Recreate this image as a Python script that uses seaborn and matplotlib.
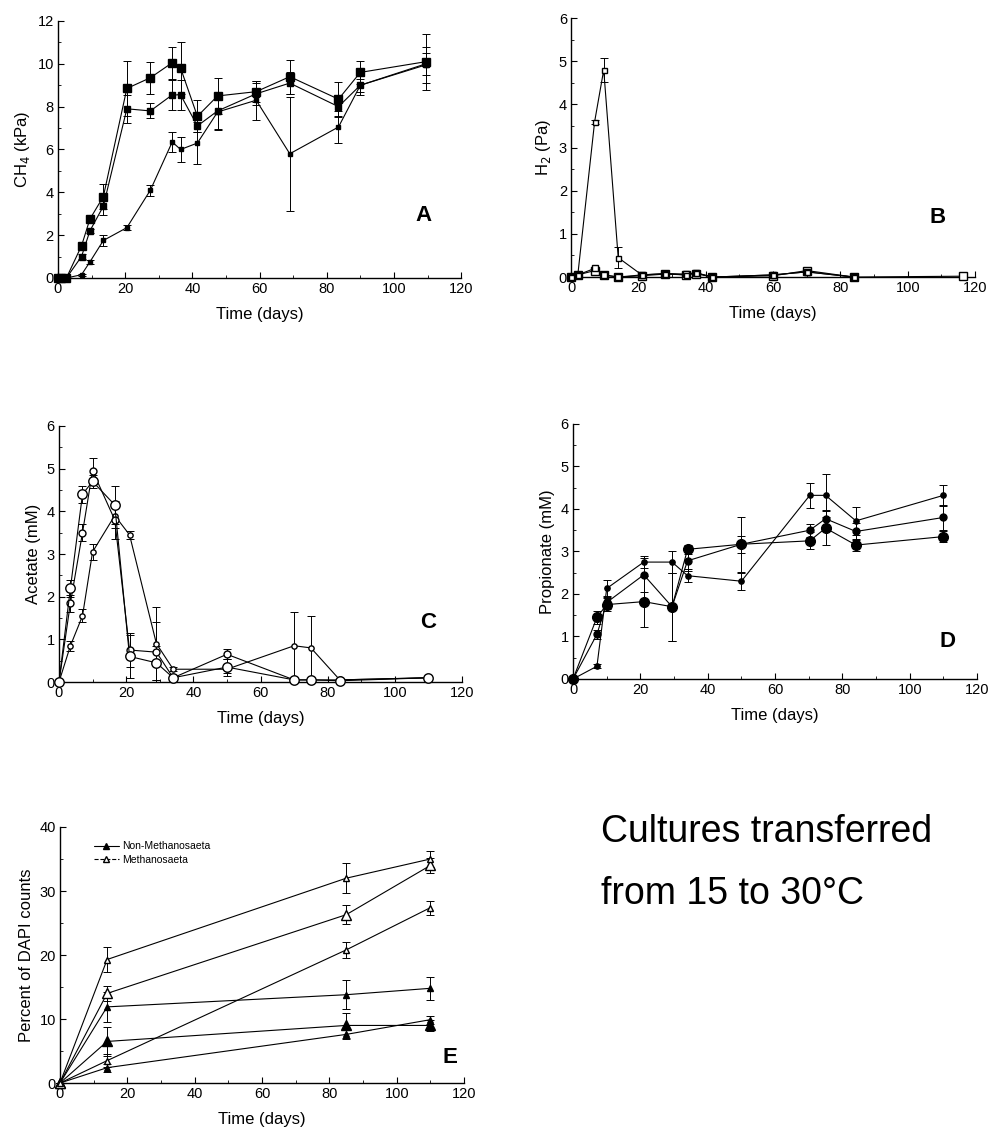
import seaborn as sns
import matplotlib.pyplot as plt
from matplotlib.lines import Line2D
from matplotlib.ticker import MultipleLocator

sns.set_style("ticks")
plt.rcParams['font.family'] = ['Liberation Sans', 'DejaVu Sans']
plt.rcParams['text.color'] = 'black'
plt.rcParams['axes.labelcolor'] = 'black'
plt.rcParams['xtick.color'] = 'black'
plt.rcParams['ytick.color'] = 'black'

# --- Panel A: CH4 ---
a_x = [0, 1, 2.5, 7, 9.5, 13.5, 20.5, 27.5, 34, 36.5, 41.5, 47.5, 59, 69, 83.5, 90, 109.5]
a_large = [0, 0, 0, 1.5, 2.75, 3.8, 8.85, 9.35, 10.05, 9.8, 7.55, 8.5, 8.7, 9.4, 8.35, 9.6, 10.1]
a_large_err = [0, 0, 0, 0.1, 0.15, 0.6, 1.3, 0.75, 0.75, 1.2, 0.75, 0.85, 0.5, 0.8, 0.8, 0.55, 1.3]
a_mid = [0, 0, 0, 1.0, 2.2, 3.35, 7.9, 7.8, 8.55, 8.55, 7.1, 7.8, 8.6, 9.1, 8.0, 9.0, 10.0]
a_mid_err = [0, 0, 0, 0.1, 0.1, 0.4, 0.65, 0.35, 0.7, 0.7, 0.3, 0.85, 0.5, 0.5, 0.5, 0.45, 0.5]
a_small = [0, 0, 0, 0.15, 0.75, 1.75, 2.35, 4.1, 6.35, 6.0, 6.3, 7.75, 8.3, 5.8, 7.05, 9.0, 9.95]
a_small_err = [0, 0, 0, 0.05, 0.1, 0.25, 0.1, 0.25, 0.45, 0.6, 1.0, 0.85, 0.9, 2.65, 0.75, 0.3, 0.85]

# --- Panel B: H2 ---
b_x = [0, 2, 7, 9.7, 14, 21, 28, 34, 37, 42, 60, 70, 84]
b_small = [0, 0.05, 3.6, 4.8, 0.45, 0.05, 0.08, 0.05, 0.1, 0, 0.05, 0.12, 0]
b_small_err = [0, 0, 0.05, 0.27, 0.25, 0, 0, 0, 0, 0, 0, 0, 0]
b_mid = [0, 0.05, 0.2, 0.05, 0, 0.05, 0.08, 0.07, 0.1, 0, 0.05, 0.12, 0]
b_x_large = [0, 2, 7, 9.7, 14, 21, 28, 34, 37, 42, 60, 70, 84, 116.5]
b_large = [0, 0.05, 0.15, 0.05, 0, 0.03, 0.07, 0.05, 0.08, 0, 0.03, 0.15, 0, 0.02]

# --- Panel C: Acetate ---
c_x = [0, 3.4, 7, 10, 16.6, 21, 29, 34, 50, 70, 75, 83.6, 110]
c_large = [0, 2.2, 4.4, 4.7, 4.15, 0.6, 0.45, 0.1, 0.35, 0.05, 0.05, 0.03, 0.1]
c_large_err = [0, 0.2, 0.2, 0.15, 0.45, 0.5, 0.4, 0.05, 0.2, 0, 0, 0, 0]
c_mid = [0, 1.85, 3.5, 4.95, 3.8, 0.75, 0.7, 0.1, 0.65, 0.05, 0.05, 0.05, 0.1]
c_mid_err = [0, 0.2, 0.2, 0.3, 0.45, 0.4, 0.7, 0.05, 0.12, 0, 0, 0, 0]
c_small = [0, 0.85, 1.55, 3.05, 3.9, 3.45, 0.9, 0.3, 0.3, 0.85, 0.8, 0.05, 0.1]
c_small_err = [0, 0.12, 0.15, 0.18, 0.3, 0.1, 0.85, 0.05, 0.1, 0.8, 0.75, 0, 0]

# --- Panel D: Propionate ---
d_x = [0, 7.1, 10, 21, 29.4, 34, 50, 70.3, 75, 84, 110]
d_large = [0, 1.45, 1.75, 1.82, 1.7, 3.05, 3.17, 3.25, 3.55, 3.15, 3.35]
d_large_err = [0, 0.15, 0.15, 0.6, 0.8, 0.1, 0.65, 0.2, 0.4, 0.15, 0.12]
d_mid = [0, 1.05, 1.8, 2.45, 1.7, 2.78, 3.17, 3.5, 3.77, 3.47, 3.8]
d_mid_err = [0, 0.1, 0.15, 0.4, 0.8, 0.25, 0.2, 0.15, 0.2, 0.2, 0.3]
d_small = [0, 0.3, 2.13, 2.75, 2.75, 2.43, 2.3, 4.32, 4.32, 3.72, 4.32]
d_small_err = [0, 0.05, 0.2, 0.15, 0.25, 0.15, 0.2, 0.3, 0.5, 0.33, 0.25]

# --- Panel E: percent of DAPI counts ---
e_x = [0, 14, 85, 110]
e_non_large = [0, 6.5, 9.0, 9.0]
e_non_large_err = [0, 2.2, 2.0, 0.9]
e_non_mid = [0, 2.4, 7.6, 9.9]
e_non_mid_err = [0, 0.6, 0.7, 0.6]
e_non_small = [0, 11.9, 13.8, 14.8]
e_non_small_err = [0, 2.3, 2.3, 1.8]
e_meth_large = [0, 14.0, 26.3, 34.0]
e_meth_large_err = [0, 1.2, 1.5, 1.2]
e_meth_mid = [0, 19.3, 32.0, 35.0]
e_meth_mid_err = [0, 2.0, 2.3, 1.2]
e_meth_small = [0, 3.5, 20.8, 27.4]
e_meth_small_err = [0, 1.0, 1.3, 1.1]


def draw(ax, x, y, err, marker, ms, filled):
    if err is not None:
        ax.errorbar(x, y, yerr=err, fmt='none', ecolor='black', elinewidth=0.7,
                    capsize=3, capthick=0.7, clip_on=False, zorder=2)
    sns.lineplot(x=x, y=y, ax=ax, color='black', lw=0.8, marker=marker,
                 markersize=ms, markeredgewidth=1.0, markeredgecolor='black',
                 markerfacecolor='black' if filled else 'white',
                 sort=False, estimator=None, clip_on=False, zorder=3)


def style(ax, ymax, ymajor, yminor, ylabel, letter, lx, ly):
    ax.set_xlim(0, 120)
    ax.set_ylim(0, ymax)
    ax.xaxis.set_major_locator(MultipleLocator(20))
    ax.xaxis.set_minor_locator(MultipleLocator(10))
    ax.yaxis.set_major_locator(MultipleLocator(ymajor))
    ax.yaxis.set_minor_locator(MultipleLocator(yminor))
    ax.tick_params(which='major', direction='in', length=4, width=0.8,
                   labelsize=10.5, pad=3)
    ax.tick_params(which='minor', direction='in', length=2, width=0.6)
    ax.set_xlabel("Time (days)", fontsize=12, labelpad=8)
    ax.set_ylabel(ylabel, fontsize=12, labelpad=4)
    for s in ['left', 'bottom']:
        ax.spines[s].set_linewidth(1.0)
        ax.spines[s].set_color('black')
    sns.despine(ax=ax)
    ax.text(lx, ly, letter, transform=ax.transAxes, fontsize=16,
            fontweight='bold', ha='center', va='center')


fig = plt.figure(figsize=(9.88, 11.29), dpi=100)
ax_a = fig.add_axes([0.0587, 0.7538, 0.408, 0.2276])
ax_b = fig.add_axes([0.578, 0.7546, 0.409, 0.2294])
ax_c = fig.add_axes([0.0597, 0.3959, 0.408, 0.2268])
ax_d = fig.add_axes([0.580, 0.3986, 0.409, 0.2259])
ax_e = fig.add_axes([0.0607, 0.0407, 0.409, 0.2268])

# A
draw(ax_a, a_x, a_small, a_small_err, 's', 3.2, True)
draw(ax_a, a_x, a_mid, a_mid_err, 's', 4.6, True)
draw(ax_a, a_x, a_large, a_large_err, 's', 6.2, True)
style(ax_a, 12, 2, 1, "CH$_4$ (kPa)", "A", 0.906, 0.245)

# B
draw(ax_b, b_x_large, b_large, None, 's', 6.0, False)
draw(ax_b, b_x, b_mid, None, 's', 4.8, False)
draw(ax_b, b_x, b_small, b_small_err, 's', 3.6, False)
style(ax_b, 6, 1, 0.5, "H$_2$ (Pa)", "B", 0.906, 0.23)

# C
draw(ax_c, c_x, c_small, c_small_err, 'o', 3.8, False)
draw(ax_c, c_x, c_mid, c_mid_err, 'o', 5.0, False)
draw(ax_c, c_x, c_large, c_large_err, 'o', 6.8, False)
style(ax_c, 6, 1, 0.5, "Acetate (mM)", "C", 0.916, 0.234)

# D
draw(ax_d, d_x, d_small, d_small_err, 'o', 3.8, True)
draw(ax_d, d_x, d_mid, d_mid_err, 'o', 5.0, True)
draw(ax_d, d_x, d_large, d_large_err, 'o', 7.0, True)
style(ax_d, 6, 1, 0.5, "Propionate (mM)", "D", 0.926, 0.145)

# E
draw(ax_e, e_x, e_non_small, e_non_small_err, '^', 3.8, True)
draw(ax_e, e_x, e_non_mid, e_non_mid_err, '^', 5.0, True)
draw(ax_e, e_x, e_non_large, e_non_large_err, '^', 7.0, True)
draw(ax_e, e_x, e_meth_small, e_meth_small_err, '^', 3.8, False)
draw(ax_e, e_x, e_meth_large, e_meth_large_err, '^', 7.0, False)
draw(ax_e, e_x, e_meth_mid, e_meth_mid_err, '^', 5.0, False)
style(ax_e, 40, 10, 5, "Percent of DAPI counts", "E", 0.965, 0.098)

handles = [
    Line2D([0], [0], color='black', lw=0.8, marker='^', markersize=5,
           markerfacecolor='black', markeredgecolor='black'),
    Line2D([0], [0], color='black', lw=0.8, ls='--', marker='^', markersize=5,
           markerfacecolor='white', markeredgecolor='black'),
]
ax_e.legend(handles, ["Non-Methanosaeta", "Methanosaeta"], loc='upper left',
            bbox_to_anchor=(0.06, 0.98), frameon=False, fontsize=7.5,
            handlelength=2.4, handletextpad=0.3, labelspacing=0.3)

fig.text(0.608, 0.2356, "Cultures transferred\nfrom 15 to 30\u00b0C",
         fontsize=27, ha='left', va='center', linespacing=1.9)

plt.savefig("out.png", dpi=100)
